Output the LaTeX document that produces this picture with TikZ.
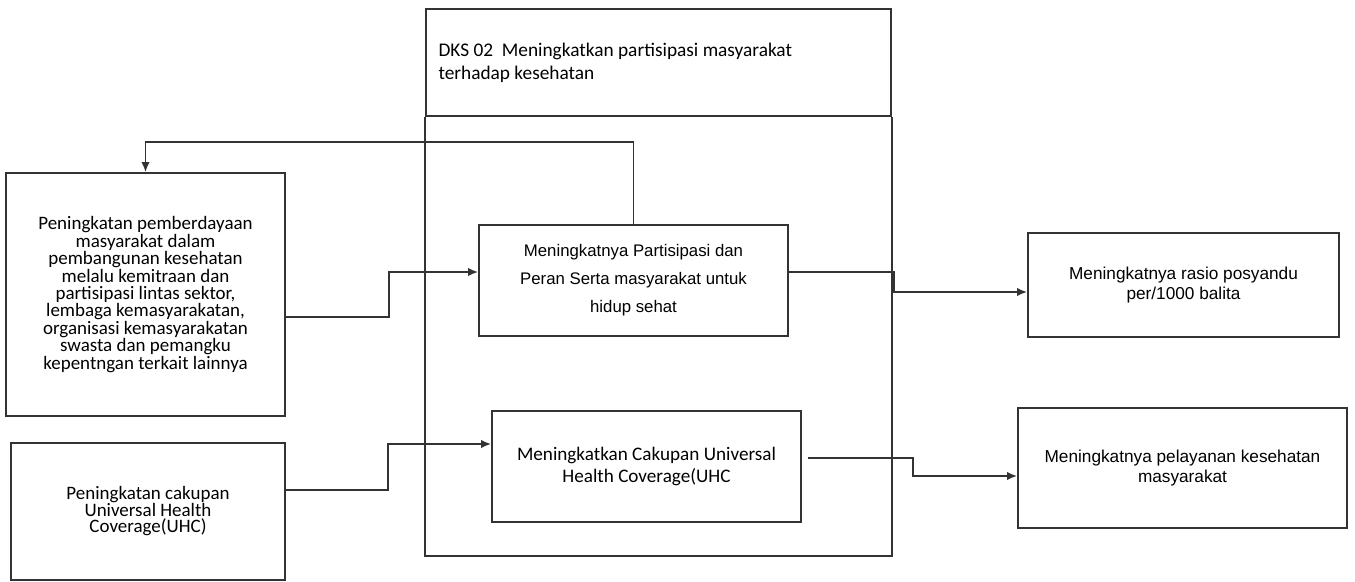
\documentclass[tikz,border=0pt]{standalone}
\usepackage{fontspec}
\setmainfont{Carlito}
\newfontfamily\arial{Liberation Sans}
\usepackage{tikz}
\usetikzlibrary{arrows, arrows.meta, shapes, positioning, calc}
\tikzstyle{kotak} = [rectangle, draw = black!80, line width = 1pt, inner sep = 0pt, align = center]
\tikzstyle{panah} = [line width = 1pt, draw = black!80, -{Latex[length=2mm, width=1.7mm]}]

\begin{document}
\begin{tikzpicture}
\useasboundingbox (0,0) rectangle (27.1,-11.62);

\node (dks) [kotak, minimum width = 9.3cm, minimum height = 2.14cm, align = left, text width = 8.8cm, font = \fontsize{11}{13}\selectfont] at (13.17,-1.25) {\spaceskip=0pt\relax DKS 02\ \ Meningkatkan partisipasi masyarakat\\terhadap kesehatan};
\node (wadah) [kotak, draw = none, minimum width = 9.3cm, minimum height = 8.74cm, anchor = north] at (dks.south) {};
\draw[line width = 1pt, black!80] (wadah.north west) |- (wadah.south east) -- (wadah.north east);

\node (l1) [kotak, minimum width = 5.58cm, minimum height = 4.86cm, font = \fontsize{10.8}{9.9}\selectfont] at (2.91,-5.89) {Peningkatan pemberdayaan\\masyarakat dalam\\pembangunan kesehatan\\melalu kemitraan dan\\partisipasi lintas sektor,\\lembaga kemasyarakatan,\\organisasi kemasyarakatan\\swasta dan pemangku\\kepentngan terkait lainnya};
\node (l2) [kotak, minimum width = 5.48cm, minimum height = 2.74cm, font = \fontsize{10.8}{9.4}\selectfont] at (2.96,-10.23) {Peningkatan cakupan\\Universal Health\\Coverage(UHC)};

\node (m1) [kotak, minimum width = 6.18cm, minimum height = 2.22cm, font = \arial\fontsize{9.55}{16}\selectfont] at (12.67,-5.61) {Meningkatnya Partisipasi dan\\Peran Serta masyarakat untuk\\hidup sehat};
\node (m2) [kotak, minimum width = 6.18cm, minimum height = 2.22cm, font = \fontsize{10.9}{12.5}\selectfont] at (12.93,-9.33) {Meningkatkan Cakupan Universal\\Health Coverage(UHC};

\node (r1) [kotak, minimum width = 6.22cm, minimum height = 2.08cm, font = \arial\fontsize{9.8}{11.3}\selectfont] at (23.67,-5.70) {Meningkatnya rasio posyandu\\per/1000 balita};
\node (r2) [kotak, minimum width = 6.58cm, minimum height = 2.4cm, font = \arial\fontsize{9.8}{11.3}\selectfont] at (23.65,-9.36) {Meningkatnya pelayanan kesehatan\\masyarakat};

% umpan balik ke atas
\draw[panah] (m1.north) -- ++(0,1.64) -| (l1.north);

\draw[panah] ([yshift=-0.45cm]l1.east) -- ++(2.06,0) |- ([yshift=0.17cm]m1.west);
\draw[panah] ([yshift=0.43cm]l2.east) -- ++(2.04,0) |- ([yshift=0.45cm]m2.west);

\draw[panah] ([yshift=0.17cm]m1.east) -- ++(2.1,0) |- ([yshift=-0.14cm]r1.west);
\draw[panah] ([shift={(0.12,0.17)}]m2.east) -- ++(2.1,0) |- ([yshift=-0.16cm]r2.west);
\end{tikzpicture}
\end{document}
